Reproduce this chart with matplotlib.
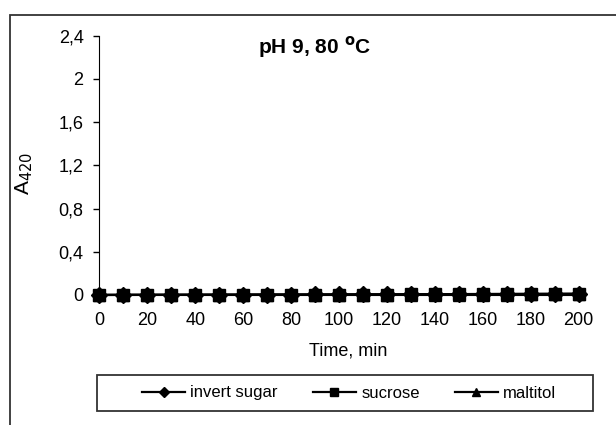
import matplotlib.pyplot as plt
from matplotlib.patches import Rectangle

plt.rcParams['font.family'] = ['Liberation Sans', 'DejaVu Sans']

# Data
time_min = [0, 10, 20, 30, 40, 50, 60, 70, 80, 90, 100,
            110, 120, 130, 140, 150, 160, 170, 180, 190, 200]
invert_sugar = [0.0, 0.001, 0.001, 0.002, 0.002, 0.003, 0.003, 0.004, 0.004, 0.005, 0.005,
                0.006, 0.006, 0.007, 0.007, 0.008, 0.009, 0.010, 0.011, 0.012, 0.013]
sucrose = [0.0, 0.001, 0.001, 0.001, 0.002, 0.002, 0.002, 0.003, 0.003, 0.003, 0.004,
           0.004, 0.004, 0.005, 0.005, 0.005, 0.006, 0.006, 0.007, 0.007, 0.008]
maltitol = [0.0, 0.0, 0.001, 0.001, 0.001, 0.001, 0.002, 0.002, 0.002, 0.002, 0.003,
            0.003, 0.003, 0.003, 0.004, 0.004, 0.004, 0.004, 0.005, 0.005, 0.005]
y_ticks = [0, 0.4, 0.8, 1.2, 1.6, 2.0, 2.4]
y_tick_labels = ['0', '0,4', '0,8', '1,2', '1,6', '2', '2,4']
x_ticks = list(range(0, 201, 20))

fig = plt.figure(figsize=(6.16, 4.25), dpi=100)
ax = fig.add_axes([0.1615, 0.306, 0.778, 0.610])

# outer chart frame (right and bottom edges are cut off in the original)
fig.patches.append(Rectangle((10 / 616, -0.1), 1.2, 1 - 15 / 425 + 0.1,
                             transform=fig.transFigure, fill=False,
                             edgecolor='#333333', lw=1.3))

ax.plot(time_min, invert_sugar, color='black', lw=1.6, marker='D', ms=8,
        clip_on=False, zorder=3, label='invert sugar')
ax.plot(time_min, sucrose, color='black', lw=1.6, marker='s', ms=8.5,
        clip_on=False, zorder=3, label='sucrose')
ax.plot(time_min, maltitol, color='black', lw=1.6, marker='^', ms=8.5,
        clip_on=False, zorder=3, label='maltitol')

ax.set_xlim(0, 200)
ax.set_ylim(0, 2.4)
ax.set_xticks(x_ticks)
ax.set_yticks(y_ticks)
ax.set_yticklabels(y_tick_labels)
ax.spines['top'].set_visible(False)
ax.spines['right'].set_visible(False)
ax.tick_params(axis='y', direction='out', length=4.5, width=1, pad=7, labelsize=13)
ax.tick_params(axis='x', direction='out', length=3, width=1, pad=9, labelsize=13)

ax.set_xlabel('Time, min', fontsize=13)
ax.xaxis.set_label_coords(0.518, -0.185)
ax.set_ylabel('A$_{420}$', fontsize=15)
ax.yaxis.set_label_coords(-0.135, 0.47)

ax.text(0.448, 0.956, 'pH 9, 80 $^{\\mathbf{o}}$C', transform=ax.transAxes,
        ha='center', va='center', fontsize=15, fontweight='bold')

# legend box below the plot
fig.patches.append(Rectangle((97 / 616, 1 - 411 / 425), 496 / 616, 36 / 425,
                             transform=fig.transFigure, fill=False,
                             edgecolor='#333333', lw=1.3))
fig.legend(loc='center', bbox_to_anchor=(349 / 616, 1 - 393 / 425), ncol=3,
           frameon=False, fontsize=12, handlelength=2.6, handletextpad=0.3,
           columnspacing=2.1, markerscale=0.65)

fig.savefig('out.png', dpi=100)
